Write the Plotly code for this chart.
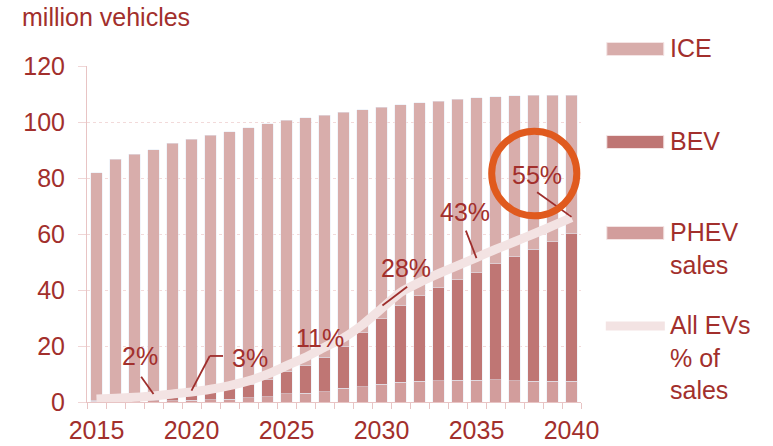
import plotly.graph_objects as go

# ---- data ----
years = list(range(2015, 2041))
phev = [0.2, 0.3, 0.4, 0.4, 0.5, 0.6, 0.8, 1.0, 1.6, 1.9, 2.9, 3.1, 3.7, 4.9, 5.5, 6.4,
        7.0, 7.5, 7.6, 7.7, 7.7, 8.0, 7.6, 7.5, 7.4, 7.4]
bev = [0.4, 0.5, 0.7, 1.2, 1.7, 2.3, 2.8, 3.7, 4.5, 6.0, 7.9, 9.9, 12.3, 14.9, 19.3, 23.4,
       27.4, 30.4, 33.2, 36.0, 38.5, 41.3, 44.3, 47.0, 49.9, 52.7]
ice = [81.3, 85.9, 87.3, 88.5, 90.2, 91.0, 91.6, 91.8, 91.9, 91.5, 89.8, 88.5, 86.5, 83.6,
       79.6, 75.4, 71.8, 68.9, 66.7, 64.4, 62.5, 59.7, 57.4, 55.1, 52.3, 49.5]
ev_share = [0.9, 1.1, 1.4, 1.8, 2.4, 3.0, 3.8, 4.9, 6.3, 8.3, 10.8, 13.3, 16.3, 19.1, 23.0,
            27.8, 32.6, 35.6, 38.2, 40.6, 43.0, 45.4, 47.7, 50.0, 52.4, 54.9]
x_tick_years = [2015, 2020, 2025, 2030, 2035, 2040]
y_ticks = [0, 20, 40, 60, 80, 100, 120]
legend_labels = ["ICE", "BEV", "PHEV<br>sales", "All EVs<br>% of<br>sales"]
callout_labels = ["2%", "3%", "11%", "28%", "43%", "55%"]
y_title = "million vehicles"

# ---- styles ----
TXT = "#a22f2c"
C_ICE = "#d8adab"
C_BEV = "#bf7674"
C_PHEV = "#d29d9c"
C_LINE = "#f3e3e3"
C_ORANGE = "#e05a1e"
FONT = "Liberation Sans, Arial, sans-serif"
FS = 25

fig = go.Figure()
fig.add_trace(go.Bar(x=years, y=phev, name="PHEV sales", marker_color=C_PHEV, showlegend=False))
fig.add_trace(go.Bar(x=years, y=bev, name="BEV", marker_color=C_BEV, showlegend=False))
fig.add_trace(go.Bar(x=years, y=ice, name="ICE", marker_color=C_ICE, showlegend=False))
fig.add_trace(go.Scatter(x=years, y=ev_share, yaxis="y2", mode="lines", name="All EVs % of sales",
                         line=dict(color=C_LINE, width=9, shape="spline", smoothing=0.6),
                         showlegend=False))

fig.update_layout(
    width=773, height=446,
    margin=dict(l=87, r=192, t=66, b=44, autoexpand=False),
    paper_bgcolor="white", plot_bgcolor="white",
    barmode="stack", bargap=0.4,
    font=dict(family=FONT, color=TXT, size=FS),
    xaxis=dict(range=[2014.5, 2040.5], tickmode="array", tickvals=x_tick_years,
               ticks="", showgrid=False, showline=True, linecolor="#e8c4c4", linewidth=1,
               tickfont=dict(size=FS, color=TXT), ticklabelstandoff=6, automargin=False,
               minor=dict(tickmode="linear", tick0=2014.5, dtick=1, ticks="outside",
                          ticklen=6, tickcolor="#e8c4c4", showgrid=False),
               zeroline=False),
    yaxis=dict(range=[0, 120], tickmode="array", tickvals=y_ticks, ticks="outside",
               ticklen=8, tickcolor="#f0d6d6", showline=True, linecolor="#e8c4c4",
               showgrid=True, gridcolor="#f2dada", griddash="dot", gridwidth=1,
               tickfont=dict(size=FS, color=TXT), ticklabelstandoff=8, zeroline=False,
               automargin=False),
    yaxis2=dict(range=[0, 100], overlaying="y", visible=False),
)

# y-axis unit title
fig.add_annotation(text=y_title, xref="paper", yref="paper", x=-0.136, y=1.146,
                   xanchor="left", yanchor="middle", showarrow=False,
                   font=dict(size=FS, color=TXT))

# ---- manual legend ----
leg_y = [49, 142, 233, 326]      # pixel centres of symbols
def py(p):
    return (402 - p) / 336.0
def px(p):
    return (p - 87.2) / 494.0
leg_colors = [C_ICE, C_BEV, C_PHEV]
for i in range(3):
    fig.add_shape(type="rect", xref="paper", yref="paper",
                  x0=px(607), x1=px(664), y0=py(leg_y[i] + 6.5), y1=py(leg_y[i] - 6.5),
                  fillcolor=leg_colors[i], line=dict(color="#f4e4e4", width=1))
fig.add_shape(type="line", xref="paper", yref="paper",
              x0=px(606), x1=px(665), y0=py(leg_y[3]), y1=py(leg_y[3]),
              line=dict(color=C_LINE, width=9))
for i, lab in enumerate(legend_labels):
    fig.add_annotation(text=lab, xref="paper", yref="paper", x=px(668), y=py(leg_y[i] - 17),
                       xanchor="left", yanchor="top", align="left", showarrow=False,
                       font=dict(size=FS, color=TXT))

# ---- callouts (text + pointer lines), data coords on year / share axis ----
callout_pos = [(2017.28, 13.7), (2023.07, 13.1), (2026.75, 19.0),
               (2031.3, 39.9), (2034.38, 56.5), (2038.16, 67.6)]
for lab, (cx, cy) in zip(callout_labels, callout_pos):
    fig.add_annotation(text=lab, x=cx, y=cy, xref="x", yref="y2", showarrow=False,
                       xanchor="center", yanchor="middle", font=dict(size=FS, color=TXT))

pointers = [
    [(2017.35, 7.5), (2018.0, 2.4)],
    [(2020.0, 3.4), (2020.96, 13.7), (2021.66, 13.7)],
    [(2030.05, 28.7), (2031.35, 34.3)],
    [(2034.44, 51.0), (2035.0, 42.8)],
    [(2038.19, 62.4), (2040.0, 55.1)],
]
for pts in pointers:
    for (x0, y0), (x1, y1) in zip(pts[:-1], pts[1:]):
        fig.add_shape(type="line", xref="x", yref="y2", x0=x0, y0=y0, x1=x1, y1=y1,
                      line=dict(color="#9e2e2c", width=1.8))

# orange highlight circle
fig.add_shape(type="circle", xref="x", yref="y2", x0=2035.8, x1=2040.28, y0=55.4, y1=80.6,
              line=dict(color=C_ORANGE, width=7))

fig.write_html("out.html", config={"displayModeBar": False},
               post_script="document.body.style.margin='0px';document.body.style.overflow='hidden';")
